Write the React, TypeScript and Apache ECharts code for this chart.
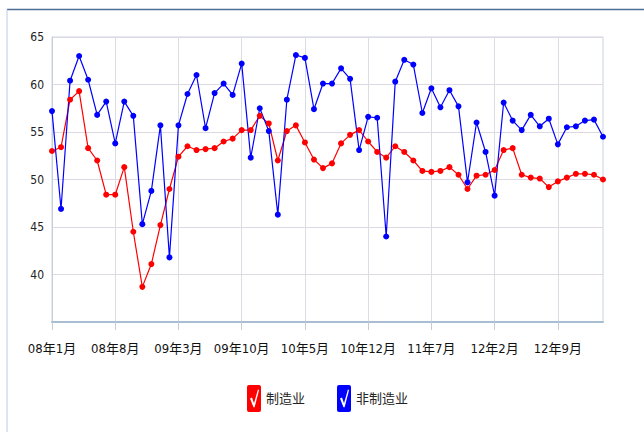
import React, { useEffect, useRef } from "react";
import * as echarts from "echarts";

const years = ["08", "09", "10", "11", "12", "13"];
const categories: string[] = [];
for (let i = 0; i < 62; i++) {
  const y = Math.floor(i / 12);
  const m = (i % 12) + 1;
  categories.push(`${years[y]}年${m}月`);
}

const manufacturing = [
  53.0, 53.4, 58.4, 59.3, 53.3, 52.0, 48.4, 48.4, 51.3, 44.5, 38.7, 41.1,
  45.2, 49.0, 52.4, 53.5, 53.1, 53.2, 53.3, 54.0, 54.3, 55.2, 55.2, 56.7,
  55.9, 52.0, 55.1, 55.7, 53.9, 52.1, 51.2, 51.7, 53.8, 54.7, 55.2, 54.0,
  52.9, 52.3, 53.5, 52.9, 52.0, 50.9, 50.8, 50.9, 51.3, 50.5, 49.0, 50.4,
  50.5, 51.0, 53.1, 53.3, 50.5, 50.2, 50.1, 49.2, 49.8, 50.2, 50.6, 50.6,
  50.5, 50.0,
];

const nonManufacturing = [
  57.2, 46.9, 60.4, 63.0, 60.5, 56.8, 58.2, 53.8, 58.2, 56.7, 45.3, 48.8,
  55.7, 41.8, 55.7, 59.0, 61.0, 55.4, 59.1, 60.1, 58.9, 62.2, 52.3, 57.5,
  55.1, 46.3, 58.4, 63.1, 62.8, 57.4, 60.1, 60.1, 61.7, 60.6, 53.1, 56.6,
  56.5, 44.0, 60.3, 62.6, 62.1, 57.0, 59.6, 57.6, 59.4, 57.7, 49.7, 56.0,
  52.9, 48.3, 58.1, 56.2, 55.2, 56.8, 55.6, 56.4, 53.7, 55.5, 55.6, 56.2,
  56.3, 54.5,
];

const seriesNames = ["制造业", "非制造业"];

const checkIcon =
  "path://M2,0 L12,0 Q14,0 14,2 L14,24 Q14,26 12,26 L2,26 Q0,26 0,24 L0,2 Q0,0 2,0 Z " +
  "M3,13 L6.5,21.5 L7.6,21.5 L12,5 L11,4.2 L7,17.5 L5,12 Z";

const FONT = '"Liberation Sans Narrow", "DejaVu Sans Condensed", "Noto Sans CJK SC", sans-serif';

export default function App() {
  const ref = useRef<HTMLDivElement>(null);
  useEffect(() => {
    if (!ref.current) return;
    const chart = echarts.init(ref.current, null, { renderer: "svg" });
    chart.setOption({
      animation: false,
      backgroundColor: "#ffffff",
      graphic: [
        {
          type: "line",
          shape: { x1: 7, y1: 9.5, x2: 644, y2: 9.5 },
          style: { stroke: "#4c6d96", lineWidth: 1.5 },
          silent: true,
        },
        {
          type: "line",
          shape: { x1: 7, y1: 9.5, x2: 7, y2: 432 },
          style: { stroke: "#b9cde4", lineWidth: 1 },
          silent: true,
        },
      ],
      grid: { left: 52, top: 37, right: 41, bottom: 110, show: true, borderColor: "#c9d4e0", borderWidth: 1 },
      legend: {
        left: 242,
        top: 380,
        itemWidth: 14,
        itemHeight: 27,
        itemGap: 32,
        icon: checkIcon,
        symbolKeepAspect: false,
        textStyle: { fontSize: 13, color: "#222", fontFamily: FONT },
        data: seriesNames,
      },
      xAxis: {
        type: "category",
        boundaryGap: false,
        data: categories,
        axisLine: { lineStyle: { color: "#a9bdd2", width: 2 } },
        axisTick: { interval: 6, length: 8, lineStyle: { color: "#c3ccd6" } },
        axisLabel: {
          interval: 6,
          margin: 20,
          fontSize: 13,
          color: "#111",
          fontFamily: FONT,
        },
        splitLine: { show: true, interval: 6, lineStyle: { color: "#dadde3" } },
      },
      yAxis: {
        type: "value",
        min: 35,
        max: 65,
        interval: 5,
        axisLine: { show: true, lineStyle: { color: "#c4d0dc" } },
        axisTick: { show: false },
        axisLabel: { showMinLabel: false, margin: 8, fontSize: 12, color: "#222", fontFamily: FONT },
        splitLine: { lineStyle: { color: "#ddd9e2" } },
      },
      series: [
        {
          name: seriesNames[0],
          type: "line",
          data: manufacturing,
          symbol: "circle",
          symbolSize: 6,
          showAllSymbol: true,
          itemStyle: { color: "#ff0000" },
          lineStyle: { color: "#ff0000", width: 1.2 },
        },
        {
          name: seriesNames[1],
          type: "line",
          data: nonManufacturing,
          symbol: "circle",
          symbolSize: 6,
          showAllSymbol: true,
          itemStyle: { color: "#0000ff" },
          lineStyle: { color: "#0000ff", width: 1.2 },
        },
      ],
    });
    return () => chart.dispose();
  }, []);
  return (
    <div
      ref={ref}
      style={{ position: "fixed", left: 0, top: 0, width: 644, height: 432 }}
    />
  );
}
